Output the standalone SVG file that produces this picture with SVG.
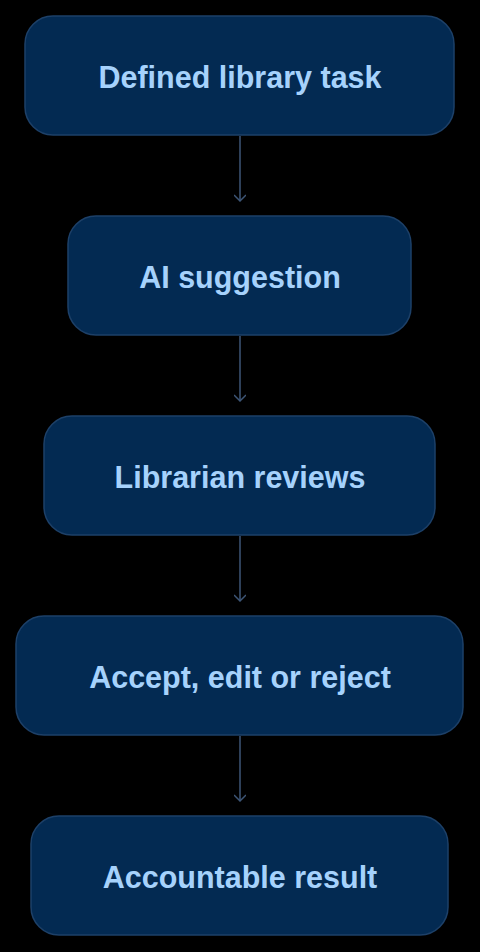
<svg xmlns="http://www.w3.org/2000/svg" width="480" height="952" viewBox="0 0 480 952">
<defs>
<style>
.box{fill:#032a52;stroke:#1d4068;stroke-width:1.5}
.lbl{font-family:"Liberation Sans",Arial,sans-serif;font-weight:700;font-size:30.5px;fill:#a6d2fc;text-anchor:middle}
.edge{stroke:#3e5677;stroke-width:1.5;fill:none}
</style>
<marker id="arr" viewBox="0 0 12 12" refX="10" refY="6" markerWidth="12" markerHeight="12" markerUnits="userSpaceOnUse" orient="auto">
<path d="M4,0 L10,6 L4,12" fill="none" stroke="#3e5677" stroke-width="1.5"/>
</marker>
</defs>
<rect width="480" height="952" fill="#000"/>
<g id="connectors">
<path class="edge" d="M240,136 V201" marker-end="url(#arr)"/>
<path class="edge" d="M240,336 V401" marker-end="url(#arr)"/>
<path class="edge" d="M240,536 V601" marker-end="url(#arr)"/>
<path class="edge" d="M240,736 V801" marker-end="url(#arr)"/>
</g>
<g id="n1"><rect class="box" x="25" y="16" width="429" height="119" rx="28"/><text class="lbl" x="240" y="88">Defined library task</text></g>
<g id="n2"><rect class="box" x="68" y="216" width="343" height="119" rx="28"/><text class="lbl" x="240" y="288">AI suggestion</text></g>
<g id="n3"><rect class="box" x="44" y="416" width="391" height="119" rx="28"/><text class="lbl" x="240" y="488">Librarian reviews</text></g>
<g id="n4"><rect class="box" x="16" y="616" width="447" height="119" rx="28"/><text class="lbl" x="240" y="688">Accept, edit or reject</text></g>
<g id="n5"><rect class="box" x="31" y="816" width="417" height="119" rx="28"/><text class="lbl" x="240" y="888">Accountable result</text></g>
</svg>
